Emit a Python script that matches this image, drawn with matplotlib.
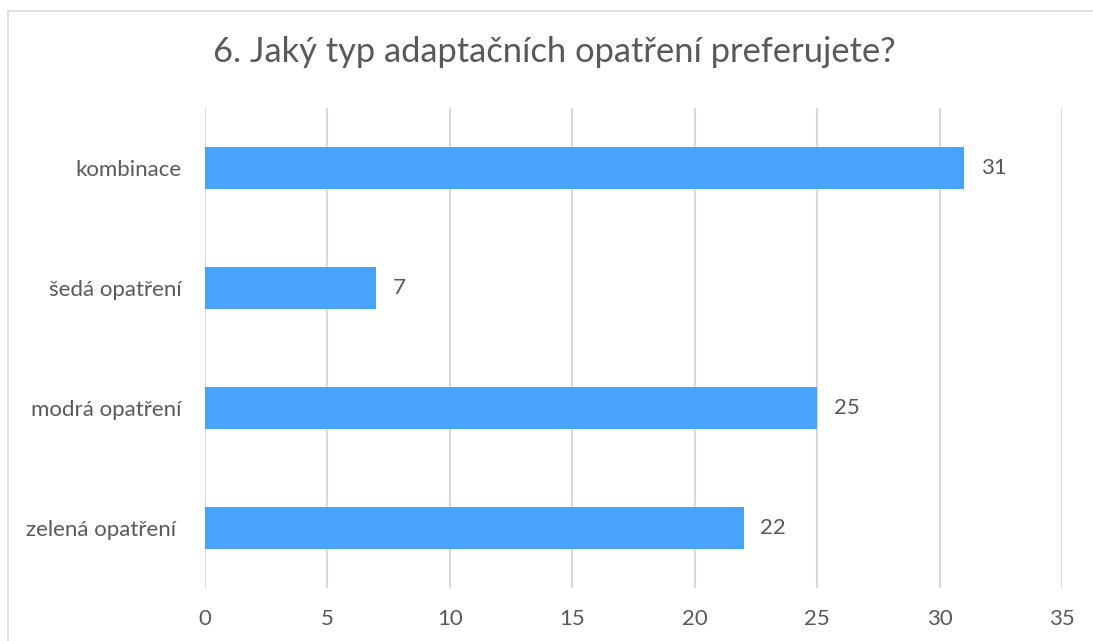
import matplotlib.pyplot as plt

# survey answers, top to bottom as in the chart
categories = ['kombinace', 'šedá opatření', 'modrá opatření', 'zelená opatření ']
counts = [31, 7, 25, 22]
x_ticks = [0, 5, 10, 15, 20, 25, 30, 35]
title = '6. Jaký typ adaptačních opatření preferujete?'

bar_color = '#4AA3FA'
text_color = '#595959'
grid_color = '#D9D9D9'

plt.rcParams['font.family'] = ['Lato', 'DejaVu Sans']

fig = plt.figure(figsize=(10.93, 6.41), dpi=100)
ax = fig.add_axes([205 / 1093, 1 - 588 / 641, (1062 - 205) / 1093, (588 - 108) / 641])

# chart-area frame like Excel's
fig.patches.append(plt.Rectangle((8 / 1093, -0.01), 1.02, 1 - 11 / 641 + 0.01,
                                 transform=fig.transFigure, fill=False,
                                 edgecolor=grid_color, linewidth=1.2))

pos = list(range(len(categories)))[::-1]
ax.barh(pos, counts, height=0.35, color=bar_color, zorder=3)

for y, v in zip(pos, counts):
    ax.annotate(str(v), (v, y), xytext=(12, 0), textcoords='offset points',
                va='center', ha='left', fontsize=16, color=text_color)

ax.set_xlim(0, 35)
ax.set_ylim(-0.5, len(categories) - 0.5)
ax.set_xticks(x_ticks)
ax.set_yticks(pos)
ax.set_yticklabels(categories)
ax.tick_params(axis='both', length=0, labelsize=16, labelcolor=text_color)
ax.tick_params(axis='x', pad=15)
ax.tick_params(axis='y', pad=17)
ax.xaxis.grid(True, color=grid_color, linewidth=1.5, zorder=0)
for s in ax.spines.values():
    s.set_visible(False)

fig.text(554 / 1093, 1 - 52 / 641, title, ha='center', va='center',
         fontsize=24.8, color=text_color)

fig.savefig('out.png', dpi=100)
